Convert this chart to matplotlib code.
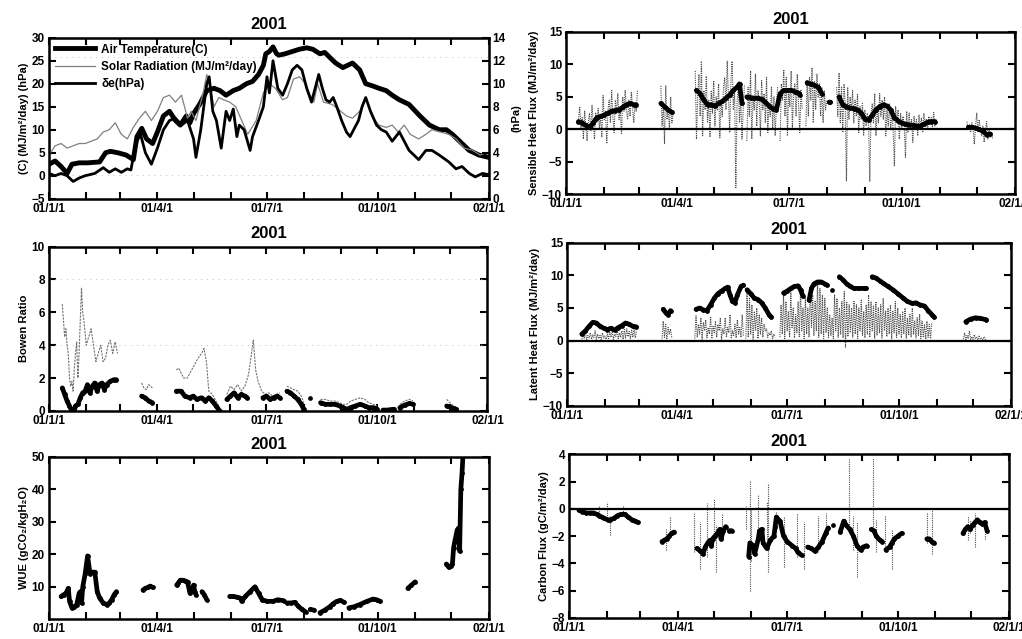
import numpy as np
import matplotlib.pyplot as plt

plt.rcParams['font.family'] = ['Liberation Sans', 'DejaVu Sans']
plt.rcParams['font.weight'] = 'bold'
plt.rcParams['axes.labelweight'] = 'bold'

# x axis: day of year 2001, ticks at month starts
month_days = [0, 31, 59, 90, 120, 151, 181, 212, 243, 273, 304, 334, 365]
month_labels = ['01/1/1', '', '', '01/4/1', '', '', '01/7/1', '', '', '01/10/1', '', '', '02/1/1']

# ---- panel 1: meteorology ----
air_days = [0, 5, 10, 15, 19, 25, 32, 42, 47, 51, 57, 64, 70, 73, 77, 81, 86, 90, 95, 100,
            105, 109, 114, 117, 120, 125, 131, 137, 142, 147, 153, 158, 164, 169, 174, 178, 180, 183, 186, 189,
            191, 196, 202, 208, 214, 219, 225, 229, 234, 238, 244, 248, 252, 258, 263, 269, 274, 280, 285, 291,
            299, 308, 316, 324, 330, 335, 343, 349, 357, 365]
air_temp = [2.5, 3.2, 2.0, 0.5, 2.5, 2.8, 2.8, 3.0, 5.0, 5.3, 5.0, 4.5, 3.5, 8.5, 10.3, 8.0, 7.0, 9.5, 13.0, 14.0,
            12.0, 11.0, 13.0, 11.5, 13.5, 15.5, 18.5, 19.0, 18.5, 17.5, 18.5, 19.0, 20.0, 20.5, 22.0, 24.0, 26.5, 27.0, 28.0, 26.5,
            26.2, 26.5, 27.0, 27.5, 27.8, 27.5, 26.5, 26.8, 25.5, 24.5, 23.5, 24.0, 24.5, 23.0, 20.0, 19.5, 19.0, 18.5, 17.5, 16.5,
            15.5, 13.0, 11.0, 10.0, 10.0, 9.0, 7.0, 5.5, 4.5, 4.0]

sol_days = [0, 5, 10, 15, 20, 25, 30, 35, 40, 45, 50, 55, 60, 65, 70, 75, 80, 85, 90, 95,
            100, 105, 110, 115, 118, 122, 128, 131, 134, 137, 141, 145, 150, 155, 160, 165, 172, 178, 183, 188,
            194, 198, 203, 208, 213, 216, 220, 223, 228, 235, 240, 247, 252, 258, 263, 268, 274, 280, 285, 290,
            295, 300, 307, 313, 318, 325, 332, 338, 345, 352, 358, 363]
solar = [4.5, 6.5, 7.0, 6.0, 6.5, 7.0, 7.0, 7.5, 8.0, 9.5, 10.0, 11.5, 9.0, 8.0, 10.5, 12.5, 14.0, 12.0, 14.0, 17.0,
         17.5, 16.0, 17.5, 12.5, 14.0, 12.0, 18.0, 22.0, 19.0, 15.0, 17.0, 16.5, 16.0, 15.0, 12.0, 9.0, 12.0, 18.0, 20.0, 19.0,
         16.5, 17.0, 21.0, 21.5, 20.0, 18.0, 16.0, 20.0, 16.0, 15.5, 14.5, 13.0, 12.5, 14.0, 17.0, 13.0, 11.0, 10.5, 11.0, 9.5,
         11.0, 9.0, 8.0, 9.0, 10.0, 9.5, 9.0, 8.0, 6.0, 5.5, 4.5, 5.0]

de_days = [0, 5, 10, 15, 20, 25, 30, 38, 45, 50, 55, 60, 65, 68, 72, 76, 80, 85, 90, 95,
           100, 105, 110, 115, 120, 122, 126, 131, 133, 136, 139, 143, 147, 150, 153, 156, 158, 162, 167, 169,
           174, 178, 181, 183, 186, 190, 194, 198, 202, 206, 210, 214, 218, 221, 224, 227, 230, 233, 236, 239,
           243, 247, 250, 253, 257, 260, 263, 267, 272, 276, 280, 285, 291, 299, 307, 313, 318, 324, 332, 338,
           343, 349, 354, 360, 365]
de_hpa = [2.2, 2.0, 2.2, 2.0, 1.5, 1.8, 2.0, 2.2, 2.7, 2.3, 2.6, 2.3, 2.6, 2.5, 4.8, 5.6, 4.0, 3.0, 4.4, 6.0,
          6.8, 7.0, 6.4, 6.8, 5.2, 3.6, 6.0, 10.0, 10.6, 7.6, 6.8, 4.4, 7.6, 6.8, 7.8, 5.4, 6.4, 6.0, 4.2, 5.4,
          6.8, 8.0, 10.6, 9.2, 12.0, 9.6, 9.0, 10.0, 11.2, 11.6, 11.2, 9.6, 8.4, 9.6, 10.8, 9.6, 8.6, 8.4, 8.8, 8.0,
          6.8, 5.8, 5.4, 6.0, 6.8, 8.0, 8.8, 7.6, 6.4, 6.0, 5.8, 5.0, 5.8, 4.2, 3.4, 4.2, 4.2, 3.8, 3.2, 2.6,
          2.8, 2.2, 1.9, 2.2, 2.1]

# ---- panel 2: sensible heat flux (MJ/m2/day) ----
N = None
sh_days = [10, 13, 16, 19, 22, 25, 28, 31, 34, 37, 40, 43, 46, 49, 52, 55, 57, 58,
           77, 80, 83, 86, 87,
           106, 109, 112, 115, 118, 121, 124, 127, 130, 133, 136, 139, 141, 143, 144,
           147, 150, 153, 156, 159, 162, 165, 168, 171, 174, 177, 180, 183, 186, 189, 190, 192,
           196, 199, 202, 205, 208, 210, 214, 215, 217,
           222, 225, 228, 231, 234, 237, 240, 243, 246, 249, 252, 255, 258, 261, 264, 267, 270, 273,
           276, 279, 282, 285, 288, 291, 294, 297, 300, 301,
           327, 330, 333, 336, 339, 342, 345]
sh_mean = [1.2, 1.0, 0.6, 0.3, 1.0, 1.8, 2.0, 2.2, 2.5, 2.8, 2.9, 3.0, 3.4, 3.8, 4.0, 3.8, 3.8, N,
           4.0, 3.5, 3.0, 2.6, N,
           6.0, 5.5, 4.5, 3.8, 3.8, 3.6, 4.0, 4.3, 4.8, 5.3, 6.0, 6.5, 7.0, 4.0, N,
           5.0, 4.9, 4.8, 4.8, 4.6, 4.2, 3.6, 3.2, 3.0, 5.5, 6.0, 6.0, 6.0, 5.8, 5.6, 5.3, N,
           7.2, 7.0, 6.8, 6.5, 5.5, N, 4.2, 4.2, N,
           5.0, 3.8, 3.5, 3.3, 3.2, 3.0, 2.5, 1.6, 1.4, 2.2, 3.0, 3.5, 3.8, 3.6, 3.0, 1.8, 1.3, 1.0,
           0.8, 0.7, 0.6, 0.5, 0.5, 0.8, 1.1, 1.2, 1.2, N,
           0.3, 0.3, 0.2, 0.0, -0.3, -0.8, -0.7]
# daily values, consecutive days from each start
sh_daily_start = [10, 77, 105, 147, 174, 195, 220, 326]
sh_daily = [
    [1.5, 3.5, 0.2, 1.8, -1.5, 2.8, 0.5, -1.8, 1.2, 2.5, -0.3, 3.7, 0.8, -1.5, 2.5, 1.0, 3.2, 0.2, 2.0, -1.2,
     5.2, 1.5, 2.8, -2.2, 3.0, 4.5, 1.0, 6.0, 2.0, -0.5, 4.5, 2.5, 5.5, 1.5, 3.0, -0.8, 5.0, 2.8, 6.0, 3.0,
     1.5, 4.5, 2.0, 5.8, 3.5, 1.0, 4.0, 2.8, 6.0],
    [6.7, 0.5, 4.0, -2.2, 6.7, 1.5, 3.0, 0.0, 5.0, 1.0, 2.5],
    [9.0, -1.5, 5.0, 8.5, 2.0, 10.5, -1.0, 6.0, 3.0, 8.2, 1.0, 4.5, -1.2, 6.0, 2.5, 7.5, 0.5, 5.0, 3.0, 7.0,
     -1.3, 4.5, 2.0, 6.5, 8.0, 3.0, 10.5, 5.0, -0.5, 7.5, 10.5, 3.0, 6.0, -9.0, 4.0, 7.0, 1.0, 5.0, -1.5, 3.0, 6.8],
    [-1.8, 6.5, 2.0, 9.0, -1.5, 5.0, 3.0, 8.5, 0.5, 6.0, 4.5, -1.0, 7.5, 3.0, 5.5, 1.0, 8.0, -0.5, 4.0, 2.0,
     6.5, 0.0, 5.0, -1.0, 3.5, 6.5],
    [-1.8, 7.0, 4.5, 9.2, 2.0, 8.0, -1.0, 6.0, 3.5, 9.0, 0.0, 5.5, 7.0, 2.0, 8.5, 4.0, -0.5, 6.0, 3.0],
    [0.5, 7.5, 2.0, 8.0, 4.5, 9.5, 1.0, 7.5, 3.0, 8.5, 5.0, 7.0, 2.0, 6.5, 1.0, 6.0, 3.0, 4.5],
    [6.5, 2.0, 8.7, 1.0, 6.5, -0.5, 7.0, 4.0, -8.0, 6.5, 1.5, 5.0, 3.0, 6.0, 1.0, 4.5, 2.0, 5.5, -0.5, 3.5,
     1.5, 4.0, -1.0, 3.0, 0.5, 2.5, 1.0, -8.0, 2.5, 4.0, 1.0, 5.5, -1.0, 3.5, 1.0, 5.5, 2.0, 4.5, 1.5, 5.0,
     -1.0, 3.0, 0.5, 4.0, 0.0, 2.5, 0.0, -5.7, 3.5, 1.0, 3.0, -1.5, 2.5, 0.0, 2.0, 0.5, -4.3, 2.8, -0.5, 2.5,
     0.0, 1.5, -2.0, 2.0, 0.0, 1.5, -1.0, 2.2, 0.3, 1.8, -0.5, 2.5, 0.5, 1.5, 0.0, 2.0, 0.8, 1.8, 0.3, 2.6,
     0.5, 1.5],
    [1.2, 0.0, 0.8, -0.5, 1.0, 0.2, -2.3, 0.5, 2.5, -0.5, 1.5, 0.0, -1.0, 0.5, -2.0, -0.5, 1.2, -1.5, 0.0, -1.2,
     -0.5, -1.5],
]

# ---- panel 3: Bowen ratio ----
bow_days = [11, 13, 15, 17, 19, 21, 22, 24, 26, 28, 30, 32, 34, 36, 38, 40, 42, 44, 46, 48, 51, 54, 56, 57,
            77, 80, 83, 86, 87,
            106, 110, 113, 117, 120, 123, 127, 130, 133, 136, 139, 142, 143,
            148, 151, 154, 157, 160, 163, 165, 166,
            178, 181, 184, 187, 190, 192, 193,
            198, 201, 204, 207, 210, 212, 213, 217, 218,
            226, 230, 234, 238, 242, 245, 248, 251, 255, 259, 263, 266, 270, 273, 274,
            278, 282, 287, 288, 292, 296, 300, 303, 304,
            331, 335, 339]
bow_ratio = [1.4, 1.0, 0.6, 0.3, 0.0, 0.0, 0.3, 0.4, 0.8, 1.1, 1.2, 1.6, 1.1, 1.5, 1.7, 1.2, 1.6, 1.7, 1.3, 1.6, 1.8, 1.9, 1.9, N,
             0.9, 0.8, 0.6, 0.5, N,
             1.2, 1.2, 0.9, 0.8, 0.9, 0.7, 0.8, 0.6, 0.8, 0.6, 0.3, 0.0, N,
             0.7, 0.9, 1.1, 0.8, 1.0, 0.9, 0.8, N,
             0.8, 0.9, 0.7, 0.8, 0.9, 0.8, N,
             1.2, 1.1, 0.9, 0.7, 0.4, 0.1, N, 0.8, N,
             0.5, 0.4, 0.4, 0.4, 0.3, 0.2, 0.1, 0.2, 0.3, 0.4, 0.3, 0.2, 0.2, 0.1, N,
             0.05, 0.05, 0.1, N, 0.2, 0.35, 0.45, 0.4, N,
             0.3, 0.2, 0.1]
bow2_days = [11, 12, 13, 14, 15, 16, 17, 18, 19, 20, 21, 22, 23, 24, 25, 27, 28, 29, 31, 33, 35, 37, 39, 41,
             43, 45, 47, 49, 51, 53, 55, 57, 58,
             77, 79, 81, 83, 86, 87,
             106, 108, 110, 112, 115, 118, 121, 124, 127, 129, 131, 133, 136, 139, 142, 143,
             148, 151, 154, 157, 160, 163, 166, 168, 170, 172, 174, 177, 180, 183, 186, 189, 192, 193,
             198, 201, 204, 207, 210, 212, 213,
             226, 230, 234, 238, 242, 245, 248, 251, 255, 259, 263, 266, 270, 273, 274,
             278, 282, 287, 288, 292, 296, 300, 303, 304,
             331, 335, 339]
bow_ratio2 = [6.5, 5.5, 4.5, 5.0, 4.0, 3.5, 2.0, 1.5, 1.8, 1.2, 2.5, 3.5, 4.2, 2.0, 3.5, 7.5, 6.0, 5.5, 4.0, 4.5,
              5.0, 4.0, 3.0, 3.5, 4.0, 3.0, 3.2, 4.0, 4.3, 3.5, 4.2, 3.5, N,
              1.7, 1.4, 1.3, 1.6, 1.4, N,
              2.5, 2.6, 2.3, 2.0, 2.0, 2.4, 2.8, 3.2, 3.5, 3.8, 3.0, 1.2, 1.0, 0.6, 0.2, N,
              1.0, 1.5, 1.3, 1.6, 1.2, 1.5, 2.2, 3.2, 4.3, 2.5, 1.8, 1.2, 1.0, 1.1, 0.9, 1.0, 1.1, N,
              1.5, 1.4, 1.3, 1.2, 0.9, 0.5, N,
              0.7, 0.7, 0.6, 0.6, 0.5, 0.4, 0.4, 0.6, 0.7, 0.8, 0.7, 0.5, 0.4, 0.3, N,
              0.1, 0.15, 0.2, N, 0.4, 0.6, 0.7, 0.6, N,
              0.7, 0.4, 0.2]

# ---- panel 4: latent heat flux ----
le_days = [12, 15, 18, 21, 24, 27, 30, 33, 36, 39, 42, 45, 48, 51, 54, 57, 58,
           79, 81, 83, 85, 86,
           106, 109, 112, 115, 118, 121, 124, 127, 130, 132, 134, 136, 138, 140, 143, 145, 146,
           148, 151, 154, 157, 160, 163, 166, 168, 169,
           178, 181, 184, 187, 190, 192, 194, 195,
           199, 201, 203, 206, 209, 212, 214, 215, 218, 219,
           224, 227, 230, 233, 236, 240, 244, 246, 248,
           251, 254, 257, 260, 264, 268, 272, 276, 280, 284, 287, 290, 294, 297, 300, 302, 303,
           328, 332, 336, 340, 345]
le_mean = [1.0, 1.5, 2.2, 2.8, 2.7, 2.2, 1.9, 1.7, 1.9, 1.6, 2.0, 2.3, 2.7, 2.5, 2.2, 2.1, N,
           4.8, 4.3, 4.0, 4.6, N,
           4.8, 5.0, 4.7, 4.6, 5.5, 6.5, 7.2, 7.6, 8.0, 8.2, 7.0, 6.0, 5.8, 7.0, 8.3, 8.5, N,
           7.8, 7.2, 6.5, 6.3, 5.8, 5.0, 4.0, 3.6, N,
           7.3, 7.6, 8.0, 8.3, 8.4, 7.8, 6.8, N,
           6.2, 8.0, 8.7, 9.0, 9.0, 8.7, 8.5, N, 7.8, N,
           9.8, 9.3, 8.7, 8.3, 8.0, 8.0, 8.0, 8.0, N,
           9.8, 9.6, 9.2, 8.8, 8.3, 7.8, 7.2, 6.6, 6.0, 5.7, 5.8, 5.5, 5.3, 4.6, 4.0, 3.6, N,
           2.9, 3.3, 3.5, 3.4, 3.2]
le_daily_start = [12, 78, 105, 147, 175, 326]
le_daily = [
    [0.2, 1.0, 0.3, 1.3, 0.1, 0.8, 0.4, 1.2, 0.2, 0.9, 0.5, 1.5, 0.2, 1.0, 0.3, 0.8, 0.1, 1.2, 0.4, 0.7,
     0.2, 1.0, 0.3, 1.3, 0.5, 1.5, 0.2, 1.0, 0.6, 1.8, 0.3, 1.2, 0.5, 1.5, 0.2, 1.7, 0.4, 1.8, 0.6, 1.4,
     0.3, 1.6, 0.5, 1.8, 0.4, 1.5],
    [0.3, 3.0, 0.5, 2.5, 0.2, 2.0, 1.0, 1.8, 0.5],
    [0.3, 3.8, 0.5, 2.5, 1.0, 3.5, 0.2, 2.8, 1.5, 3.2, 0.4, 2.0, 1.0, 3.7, 0.3, 2.2, 1.2, 3.0, 0.5, 2.5,
     1.5, 3.5, 0.2, 1.8, 1.0, 3.5, 0.5, 2.0, 1.2, 4.0, 0.3, 1.5, 0.8, 2.5, 0.4, 3.2, 1.0, 2.0, 0.5, 4.0, 0.6],
    [0.3, 7.5, 0.5, 6.5, 1.0, 5.5, 0.2, 4.5, 1.5, 5.0, 0.3, 4.0, 1.0, 3.5, 0.5, 2.5, 1.5, 1.8, 0.5, 1.2,
     0.8, 1.5, 0.3, 1.0, 0.5],
    [0.5, 5.5, 1.0, 7.0, 0.3, 6.0, 1.5, 4.5, 0.5, 7.5, 2.0, 5.0, 0.4, 4.0, 1.2, 6.0, 0.6, 8.0, 1.5, 5.0,
     0.3, 6.5, 1.0, 5.0, 0.5, 8.0, 2.0, 7.0, 0.8, 6.0, 1.5, 9.0, 0.5, 8.0, 1.0, 7.0, 0.3, 6.5, 1.2, 5.0,
     0.5, 4.0, 0.8, 3.5, 0.3, 7.0, 1.5, 6.5, 0.5, 5.0, 1.0, 6.0, 0.4, 7.5, -1.0, 6.0, 0.6, 5.5, 1.2, 5.0,
     0.5, 6.0, 1.0, 5.5, 0.3, 5.0, 1.5, 6.2, 0.8, 4.5, 0.4, 5.5, 1.0, 7.0, 0.5, 6.0, 1.5, 5.3, 0.3, 6.0,
     0.8, 5.0, 1.2, 5.5, 0.4, 6.5, 1.5, 4.5, 0.6, 5.0, 1.0, 5.5, 0.3, 4.5, 1.2, 6.0, 0.5, 5.0, 1.0, 4.0,
     0.4, 4.5, 1.0, 5.0, 0.3, 3.5, 0.8, 4.0, 0.5, 5.0, 1.0, 3.0, 0.4, 3.5, 0.8, 4.0, 0.3, 3.0, 0.6, 2.5,
     0.2, 3.0, 0.5, 2.5, 0.3, 2.8],
    [0.2, 1.2, 0.1, 0.8, 0.3, 1.5, 0.2, 0.6, 0.1, 0.9, 0.3, 0.5, 0.1, 0.8, 0.2, 0.4, 0.1, 0.6, 0.2, 0.3],
]

# ---- panel 5: WUE ----
wue_days = [10, 12, 14, 16, 17, 19, 21, 23, 25, 26, 27, 28, 30, 32, 34, 36, 38, 40, 42, 45, 48, 50, 52, 54, 56, 58,
            78, 80, 82, 84, 86, 87,
            106, 107, 109, 111, 113, 115, 117, 119, 120, 121, 122, 123, 127, 129, 131, 132,
            150, 153, 156, 159, 160, 163, 167, 171, 174, 177, 181, 186, 190, 195, 196,
            198, 201, 204, 207, 210, 213, 214, 217, 220, 222,
            225, 229, 233, 236, 239, 242, 245, 246,
            249, 253, 258, 264, 269, 272, 275, 276,
            298, 301, 304, 305,
            330, 332, 334, 335, 336, 337, 339, 340, 341, 342, 343, 344]
wue = [7.0, 7.5, 8.0, 9.5, 5.5, 3.5, 3.8, 4.5, 8.0, 8.5, 5.0, 10.0, 14.0, 19.5, 14.0, 14.5, 14.5, 8.5, 6.5, 5.0,
       4.5, 5.0, 6.0, 7.5, 8.5, N,
       9.0, 9.5, 9.8, 10.2, 9.8, N,
       10.5, 11.0, 12.0, 12.0, 11.8, 11.5, 8.0, 9.0, 10.5, 8.5, 7.5, N, 8.5, 7.5, 6.0, N,
       7.0, 7.0, 6.8, 6.5, 5.5, 7.0, 8.5, 10.0, 8.0, 6.0, 5.5, 5.5, 6.0, 5.7, N,
       5.0, 5.0, 5.2, 4.0, 3.0, 2.3, N, 3.0, 2.8, N,
       2.0, 2.8, 3.8, 4.8, 5.5, 5.8, 5.2, N,
       3.5, 3.8, 4.5, 5.5, 6.2, 6.0, 5.5, N,
       9.5, 10.5, 11.5, N,
       17.0, 16.0, 16.5, 17.0, 22.0, 24.0, 27.5, 28.0, 21.0, 40.0, 45.0, 52.0]

# ---- panel 6: carbon flux ----
c_days = [8, 11, 14, 17, 20, 23, 25, 27, 29, 32, 34, 37, 40, 43, 46, 49, 52, 55, 57, 58,
          77, 79, 81, 83, 85, 87, 88,
          106, 109, 111, 113, 115, 117, 118, 119, 121, 123, 125, 126, 128, 130, 131, 133, 135, 136,
          149, 150, 153, 154, 157, 158, 160, 161, 164, 167, 170, 171, 172, 175, 178, 181, 185, 188, 190, 193, 194,
          198, 201, 204, 207, 210, 213, 215, 216, 219, 220,
          225, 228, 230, 233, 236, 239, 242, 244, 247, 248,
          251, 253, 255, 258, 260, 261,
          263, 266, 268, 270, 273, 276, 277,
          297, 299, 301, 303, 304,
          327, 329, 331, 333, 335, 337, 339, 341, 343, 345, 347]
c_flux = [-0.1, -0.2, -0.3, -0.3, -0.3, -0.4, -0.5, -0.6, -0.7, -0.8, -0.8, -0.7, -0.5, -0.4, -0.4, -0.6, -0.8, -0.9, -1.0, N,
          -2.4, -2.3, -2.2, -2.0, -1.8, -1.7, N,
          -2.9, -3.1, -3.3, -2.8, -2.5, -2.3, -2.7, -2.2, -2.0, -1.8, -1.5, -2.2, -1.6, -1.3, N, -1.6, -1.6, N,
          -3.5, -2.5, -2.7, -3.3, -2.2, -1.6, -1.5, -2.5, -2.9, -2.3, -2.0, -1.3, -0.6, -0.9, -2.0, -2.4, -2.7, -2.9, -3.2, -3.4, N,
          -2.8, -2.9, -3.1, -2.8, -2.4, -1.8, -1.4, N, -1.2, N,
          -1.7, -0.9, -1.2, -1.5, -2.0, -2.7, -3.0, -2.8, -2.7, N,
          -1.5, -1.6, -2.0, -2.3, -2.4, N,
          -3.0, -2.8, -2.5, -2.2, -2.0, -1.8, N,
          -2.2, -2.2, -2.4, -2.5, N,
          -1.8, -1.5, -1.3, -1.5, -1.2, -1.0, -0.8, -1.0, -1.1, -1.0, -1.6]
c_spk_days = [25, 31, 34, 45, 80, 84, 104, 109, 114, 120, 122, 127, 147, 150, 151, 157, 164, 165, 172, 178,
              189, 195, 207, 213, 232, 236, 239, 252, 255, 262, 268, 297, 301, 331, 333, 337, 345]
c_spk_lo = [-0.4, -0.8, -1.9, -0.5, -3.0, -2.0, -3.2, -4.4, -3.5, -2.0, -4.6, -1.8, -1.5, -6.0, -3.8, -2.5, -2.9, -4.6, -1.0, -4.3,
            -3.5, -4.4, -3.2, -2.0, -1.5, -3.0, -5.0, -1.8, -3.2, -2.7, -4.4, -2.5, -3.3, -2.3, -1.8, -2.8, -2.2]
c_spk_hi = [0.3, 0.5, -0.5, 0.3, -1.5, -0.5, -0.3, -1.0, 0.4, 0.7, -1.2, -0.3, 0.2, 2.1, 0.0, 1.1, 0.5, 1.8, -0.2, -0.5,
            -0.3, -1.0, -0.5, -0.3, 3.7, -0.5, -1.0, 3.7, -0.8, -0.5, -1.5, -0.2, 0.0, -0.5, -0.8, -0.3, -0.8]


def arr(v):
    return np.array(v, dtype=float)


def join_daily(starts, segs):
    xs, ys = [], []
    for s, v in zip(starts, segs):
        xs += list(range(s, s + len(v))) + [np.nan]
        ys += list(v) + [np.nan]
    return arr(xs), arr(ys)


def style(ax, ylim, yticks, ylabel, right=True):
    ax.set_xlim(0, 365)
    ax.set_ylim(*ylim)
    ax.set_xticks(month_days)
    ax.set_xticklabels(month_labels)
    ax.set_yticks(yticks)
    ax.tick_params(direction='in', length=5, width=1.5, top=True, right=right, labelsize=8.5, pad=3)
    for sp in ax.spines.values():
        sp.set_linewidth(1.8)
    ax.set_title('2001', fontsize=12, fontweight='bold', pad=6)
    ax.set_ylabel(ylabel, fontsize=8, labelpad=2)


thick = dict(color='k', lw=3.4, marker='o', ms=2.4, solid_capstyle='round')
daily = dict(color='0.3', lw=0.8, ls=(0, (1, 1)))
faint = dict(color='0.75', lw=0.7, ls=(0, (1, 5)))

fig = plt.figure(figsize=(10.22, 6.39), dpi=100)

# panel 1
ax1 = fig.add_axes([0.048, 0.689, 0.430, 0.252])
ax2 = ax1.twinx()
ax1.axhline(25.7, **faint)
ax1.axhline(0.2, **faint)
l1, = ax1.plot(air_days, air_temp, color='k', lw=3.5)
l2, = ax1.plot(sol_days, solar, color='0.5', lw=0.9)
l3, = ax2.plot(de_days, de_hpa, color='k', lw=2.0)
style(ax1, (-5, 30), range(-5, 31, 5), '(C) (MJ/m²/day) (hPa)', right=False)
ax2.set_ylim(0, 14)
ax2.set_yticks(range(0, 15, 2))
ax2.tick_params(direction='in', length=5, width=1.5, labelsize=8.5, pad=3)
ax2.set_ylabel('(hPa)', fontsize=8)
ax2.legend([l1, l2, l3], ['Air Temperature(C)', 'Solar Radiation (MJ/m²/day)', 'δe(hPa)'],
           loc='upper left', frameon=False, fontsize=8.5, handlelength=3.4,
           labelspacing=0.45, borderaxespad=0.1, handletextpad=0.5)

# panel 2
ax = fig.add_axes([0.554, 0.696, 0.439, 0.254])
x, y = join_daily(sh_daily_start, sh_daily)
ax.plot(x, y, **daily)
ax.axhline(0, color='k', lw=1.6)
ax.plot(sh_days, arr(sh_mean), **thick)
style(ax, (-10, 15), range(-10, 16, 5), 'Sensible Heat Flux (MJ/m²/day)')

# panel 3
ax = fig.add_axes([0.048, 0.357, 0.429, 0.257])
ax.axhline(8, **faint)
ax.axhline(4, **faint)
ax.plot(bow2_days, arr(bow_ratio2), color='0.45', lw=0.8, ls=(0, (2, 1)))
ax.plot(bow_days, arr(bow_ratio), **thick)
style(ax, (0, 10), range(0, 11, 2), 'Bowen Ratio')

# panel 4
ax = fig.add_axes([0.555, 0.365, 0.434, 0.255])
x, y = join_daily(le_daily_start, le_daily)
ax.plot(x, y, **daily)
ax.axhline(0, color='k', lw=1.6)
ax.plot(le_days, arr(le_mean), **thick)
style(ax, (-10, 15), range(-10, 16, 5), 'Latent Heat Flux (MJ/m²/day)')

# panel 5
ax = fig.add_axes([0.048, 0.031, 0.430, 0.254])
ax.plot(wue_days, arr(wue), **thick)
style(ax, (0, 50), range(10, 51, 10), 'WUE (gCO₂/kgH₂O)')

# panel 6
ax = fig.add_axes([0.557, 0.033, 0.430, 0.256])
ax.vlines(c_spk_days, c_spk_lo, c_spk_hi, **daily)
ax.axhline(0, color='k', lw=1.6)
ax.plot(c_days, arr(c_flux), **thick)
style(ax, (-8, 4), range(-8, 5, 2), 'Carbon Flux (gC/m²/day)')

fig.savefig('out.png', dpi=100)
